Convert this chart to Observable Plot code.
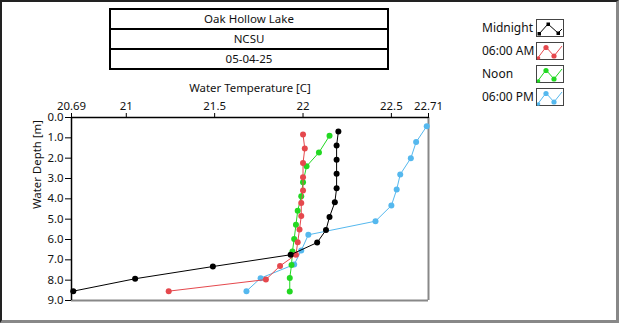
<!DOCTYPE html>
<html>
<head>
<meta charset="utf-8">
<script src="https://cdn.jsdelivr.net/npm/d3@7"></script>
<script src="https://cdn.jsdelivr.net/npm/@observablehq/plot@0.6"></script>
<style>
  html, body { margin: 0; padding: 0; background: #fff; }
  #wrap { position: relative; width: 620px; height: 324px; overflow: hidden; font-family: "Noto Sans", "DejaVu Sans", sans-serif; color: #111; }
  #frame { position: absolute; left: 0; top: 0; width: 619px; height: 323px; box-sizing: border-box;
           border-left: 2px solid #222; border-top: 2px solid #222; border-right: 3px solid #888; border-bottom: 3px solid #888; pointer-events: none; }
  #chart { position: absolute; left: 0; top: 0; }
  #titlebox { position: absolute; left: 109px; top: 8px; width: 280px; border: 2px solid #000; box-sizing: border-box; }
  #titlebox div { height: 18px; line-height: 18px; text-align: center; font-size: 11.5px; }
  #titlebox div + div { border-top: 2px solid #000; }
  .leg { position: absolute; left: 482px; font-size: 12px; height: 18px; line-height: 18px; }
  .sw { position: absolute; left: 536px; width: 28px; height: 18px; box-sizing: border-box; border: 1px solid #444; background: #fff; }
</style>
</head>
<body>
<div id="wrap">
  <div id="chart"></div>
  <div id="titlebox"></div>
  <div id="legend"></div>
  <div id="frame"></div>
</div>
<script>
// ---- data ----
const titleLines = ["Oak Hollow Lake", "NCSU", "05-04-25"];
const seriesNames = ["Midnight", "06:00 AM", "Noon", "06:00 PM"];
const seriesColors = ["#000000", "#e5484d", "#22d822", "#55b8ee"];

const midnightDepth = [0.69, 1.38, 2.08, 2.77, 3.48, 4.17, 4.89, 5.53, 6.15, 6.75, 7.33, 7.93, 8.54];
const midnightTemp  = [22.20, 22.19, 22.19, 22.19, 22.19, 22.18, 22.15, 22.13, 22.08, 21.93, 21.49, 21.05, 20.70];

const amDepth = [0.84, 1.53, 2.24, 2.94, 3.59, 4.21, 4.85, 5.51, 6.13, 6.75, 7.30, 7.97, 8.54];
const amTemp  = [22.00, 22.01, 22.00, 22.00, 22.00, 21.99, 21.99, 21.98, 21.97, 21.96, 21.87, 21.79, 21.24];

const noonDepth = [0.90, 1.72, 2.40, 3.18, 3.87, 4.59, 5.28, 5.97, 6.59, 7.25, 7.89, 8.56];
const noonTemp  = [22.15, 22.09, 22.02, 22.00, 21.99, 21.97, 21.96, 21.95, 21.94, 21.935, 21.925, 21.925];

const pmDepth = [0.43, 1.21, 2.00, 2.80, 3.54, 4.33, 5.10, 5.77, 6.54, 7.23, 7.90, 8.54];
const pmTemp  = [22.70, 22.64, 22.61, 22.55, 22.53, 22.50, 22.41, 22.03, 21.99, 21.95, 21.76, 21.68];

const xTicks = [20.69, 21, 21.5, 22, 22.5, 22.71];
const xTickLabels = ["20.69", "21", "21.5", "22", "22.5", "22.71"];
const yTicks = [0, 1, 2, 3, 4, 5, 6, 7, 8, 9];
const xDomain = [20.69, 22.71];
const yDomain = [0, 9];
const xLabel = "Water Temperature [C]";
const yLabel = "Water Depth [m]";

// ---- build ----
const depthArrays = [midnightDepth, amDepth, noonDepth, pmDepth];
const tempArrays = [midnightTemp, amTemp, noonTemp, pmTemp];
const rows = [];
seriesNames.forEach((s, i) => {
  depthArrays[i].forEach((d, j) => rows.push({series: s, depth: d, temp: tempArrays[i][j]}));
});

const lineMarks = [];
[3, 2, 1, 0].forEach(i => {
  const data = rows.filter(r => r.series === seriesNames[i]);
  lineMarks.push(Plot.line(data, {x: "temp", y: "depth", stroke: seriesColors[i], strokeWidth: 1}));
  lineMarks.push(Plot.dot(data, {x: "temp", y: "depth", fill: seriesColors[i], r: 3, stroke: "none"}));
});

const chart = Plot.plot({
  width: 620,
  height: 324,
  marginLeft: 71,
  marginRight: 192,
  marginTop: 117,
  marginBottom: 24,
  style: {fontFamily: '"Noto Sans", "DejaVu Sans", sans-serif', fontSize: "11.4px", background: "transparent", color: "#111"},
  x: {domain: xDomain},
  y: {domain: yDomain, reverse: true},
  marks: [
    Plot.ruleX([xDomain[1]], {stroke: "#888", strokeWidth: 2}),
    Plot.ruleY([yDomain[1]], {stroke: "#888", strokeWidth: 2}),
    Plot.ruleY([yDomain[0]], {stroke: "#000", strokeWidth: 1.5}),
    Plot.ruleX([xDomain[0]], {stroke: "#000", strokeWidth: 1.5}),
    Plot.axisX({anchor: "top", ticks: xTicks, tickFormat: d => xTickLabels[xTicks.indexOf(d)], tickSize: 5, tickPadding: 3, label: null, stroke: "#000"}),
    Plot.axisY({anchor: "left", ticks: yTicks, tickFormat: d => d.toFixed(1), tickSize: 6, tickPadding: 2, label: null, stroke: "#000"}),
    ...lineMarks,
    Plot.text([xLabel], {frameAnchor: "top", lineAnchor: "middle", dy: -29, text: d => d, fontSize: 11.4}),
    Plot.text([yLabel], {frameAnchor: "left", lineAnchor: "middle", rotate: -90, dx: -34, text: d => d, fontSize: 11.4})
  ]
});
document.getElementById("chart").appendChild(chart);

// title box
const tb = document.getElementById("titlebox");
titleLines.forEach(t => { const d = document.createElement("div"); d.textContent = t; tb.appendChild(d); });

// legend
const leg = document.getElementById("legend");
const legTops = [19, 42, 65, 88];
seriesNames.forEach((s, i) => {
  const t = document.createElement("div");
  t.className = "leg"; t.style.top = legTops[i] + "px"; t.textContent = s;
  leg.appendChild(t);
  const sw = document.createElement("div");
  sw.className = "sw"; sw.style.top = legTops[i] + "px";
  const c = seriesColors[i];
  let inner;
  if (i === 0) {
    inner = `<svg width="26" height="16"><polyline points="2,13 11,3 21,12 25,8" fill="none" stroke="${c}" stroke-width="1"/>
      <rect x="0.5" y="11" width="3.5" height="3.5" fill="${c}"/><rect x="9.5" y="1.5" width="3.5" height="3.5" fill="${c}"/><rect x="19.5" y="10.5" width="3.5" height="3.5" fill="${c}"/></svg>`;
  } else {
    inner = `<svg width="26" height="16"><polyline points="0,15 9,3 17,12 25,2" fill="none" stroke="${c}" stroke-width="1"/>
      <circle cx="9" cy="3.5" r="2.6" fill="${c}"/><circle cx="17" cy="12" r="2.6" fill="${c}"/><circle cx="1.5" cy="14" r="1.8" fill="${c}"/></svg>`;
  }
  sw.innerHTML = inner;
  leg.appendChild(sw);
});
</script>
</body>
</html>
